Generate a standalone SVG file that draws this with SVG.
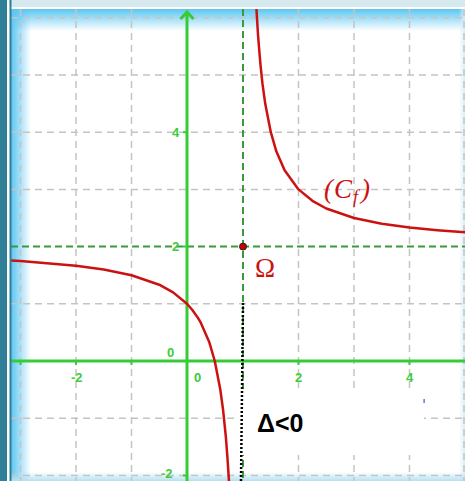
<svg xmlns="http://www.w3.org/2000/svg" width="465" height="481" viewBox="0 0 465 481">
<defs>
<linearGradient id="gl" x1="0" y1="0" x2="1" y2="0"><stop offset="0" stop-color="#5cc6f2"/><stop offset="1" stop-color="#5cc6f2" stop-opacity="0"/></linearGradient>
<linearGradient id="gt" x1="0" y1="0" x2="0" y2="1"><stop offset="0" stop-color="#5cc6f2"/><stop offset="1" stop-color="#5cc6f2" stop-opacity="0"/></linearGradient>
<linearGradient id="gr" x1="1" y1="0" x2="0" y2="0"><stop offset="0" stop-color="#d8eef7"/><stop offset="1" stop-color="#d8eef7" stop-opacity="0"/></linearGradient>
<linearGradient id="gb" x1="0" y1="1" x2="0" y2="0"><stop offset="0" stop-color="#b5e0f3"/><stop offset="1" stop-color="#b5e0f3" stop-opacity="0"/></linearGradient>
<style>
.grid{stroke:#c4c4c4;stroke-width:1.5;stroke-dasharray:7 5;fill:none}
.asym{stroke:#3a9a3a;stroke-width:2;stroke-dasharray:7 4;fill:none}
.axis{stroke:#35cc35;stroke-width:3;fill:none}
.curve{stroke:#cc1111;stroke-width:2.5;fill:none;stroke-linejoin:round}
.lbl{font-family:"Liberation Sans",Arial,sans-serif;font-weight:bold;font-size:13px;fill:#3ccc3c}
</style>
</defs>
<rect width="465" height="481" fill="#ffffff"/>
<rect x="11" y="9" width="20" height="472" fill="url(#gl)"/>
<rect x="11" y="9" width="454" height="22" fill="url(#gt)"/>
<rect x="459" y="9" width="6" height="472" fill="url(#gr)"/>
<rect x="11" y="472" width="454" height="9" fill="url(#gb)"/>
<g id="grid">
<path class="grid" d="M20.5 9V481M76 9V481M131.5 9V481M298.5 9V481M354 9V481M409.5 9V481M464 9V481"/>
<path class="grid" d="M11 17.8H465M11 75H465M11 132.2H465M11 189.4H465M11 303.8H465M11 418.2H465M11 475.4H465"/>
</g>
<g id="asymptotes">
<path class="asym" d="M11 246.6H465"/>
<path class="asym" d="M243 9V481"/>
</g>
<g id="axes">
<path class="axis" d="M11 361H465"/>
<path class="axis" d="M187 481V12"/>
<path d="M180.5 19L187 12L193.5 19" stroke="#35cc35" stroke-width="3" fill="none"/>
<path d="M76 361v4M131.5 361v4M298.5 361v4M409.5 361v4M20.5 361v4M183 132.2h4M183 246.6h4M183 475.4h4" stroke="#35cc35" stroke-width="2"/>
</g>
<g id="labels">
<text class="lbl" x="172" y="137">4</text>
<text class="lbl" x="172" y="251">2</text>
<text class="lbl" x="167" y="357">0</text>
<text class="lbl" x="161" y="478">-2</text>
<text class="lbl" x="71" y="382">-2</text>
<text class="lbl" x="194" y="382">0</text>
<text class="lbl" x="295" y="382">2</text>
<text class="lbl" x="406" y="382">4</text>
</g>
<g id="curve">
<path class="curve" d="M255.8 -2.1L258 34.7L259.7 55.9L260.8 67.8L262.4 83.2L265.2 103.6L270.8 132.2L276.3 151.3L284.6 170.3L298.5 189.4L312.4 200.8L326.3 208.5L354 218L381.8 223.7L409.5 227.5L437.3 230.2L465 232.3"/>
<path class="curve" d="M11 260.4L20.5 260.9L76 265.7L103.75 269.5L131.5 275.2L159.25 284.7L173.1 292.4L187 303.8L192.55 310.2L198.1 318.1L200.9 322.9L209.2 341.9L214.75 361L220.3 389.6L223.1 410L225.9 437.3L227.5 458.5L228.6 475.4L229.2 485"/>
</g>
<rect x="234" y="389" width="190" height="66" fill="#ffffff"/>
<rect x="423.5" y="399" width="1.2" height="4" fill="#3355dd"/>
<g id="connectors">
<path d="M243 303L241 481" stroke="#000" stroke-width="2.5" stroke-dasharray="2 2" fill="none"/>
</g>
<g id="omega">
<circle cx="243" cy="246.6" r="3.5" fill="#cc0000" stroke="#222" stroke-width="1"/>
<text x="265" y="277" text-anchor="middle" font-family="Liberation Serif,'Times New Roman',serif" font-size="27" fill="#cc1111">Ω</text>
</g>
<g id="cf-label">
<text x="324" y="198" font-family="Liberation Serif,'Times New Roman',serif" font-size="27" font-style="italic" fill="#cc1111">(<tspan dx="1">C</tspan><tspan font-size="18" dy="5" dx="1">f</tspan><tspan dy="-5" dx="3">)</tspan></text>
</g>
<g id="delta">
<text x="257" y="432" font-family="Liberation Sans,Arial,sans-serif" font-size="25" font-weight="bold" fill="#000">Δ&lt;0</text>
</g>
<rect x="0" y="0" width="465" height="7" fill="#d5e9ef"/>
<rect x="0" y="7" width="465" height="2" fill="#ffffff"/>
<rect x="0" y="0" width="7" height="481" fill="#2e7f97"/>
<rect x="7" y="0" width="2.5" height="481" fill="#ffffff"/>
<rect x="9.5" y="0" width="2" height="481" fill="#2e7f97"/>
</svg>
